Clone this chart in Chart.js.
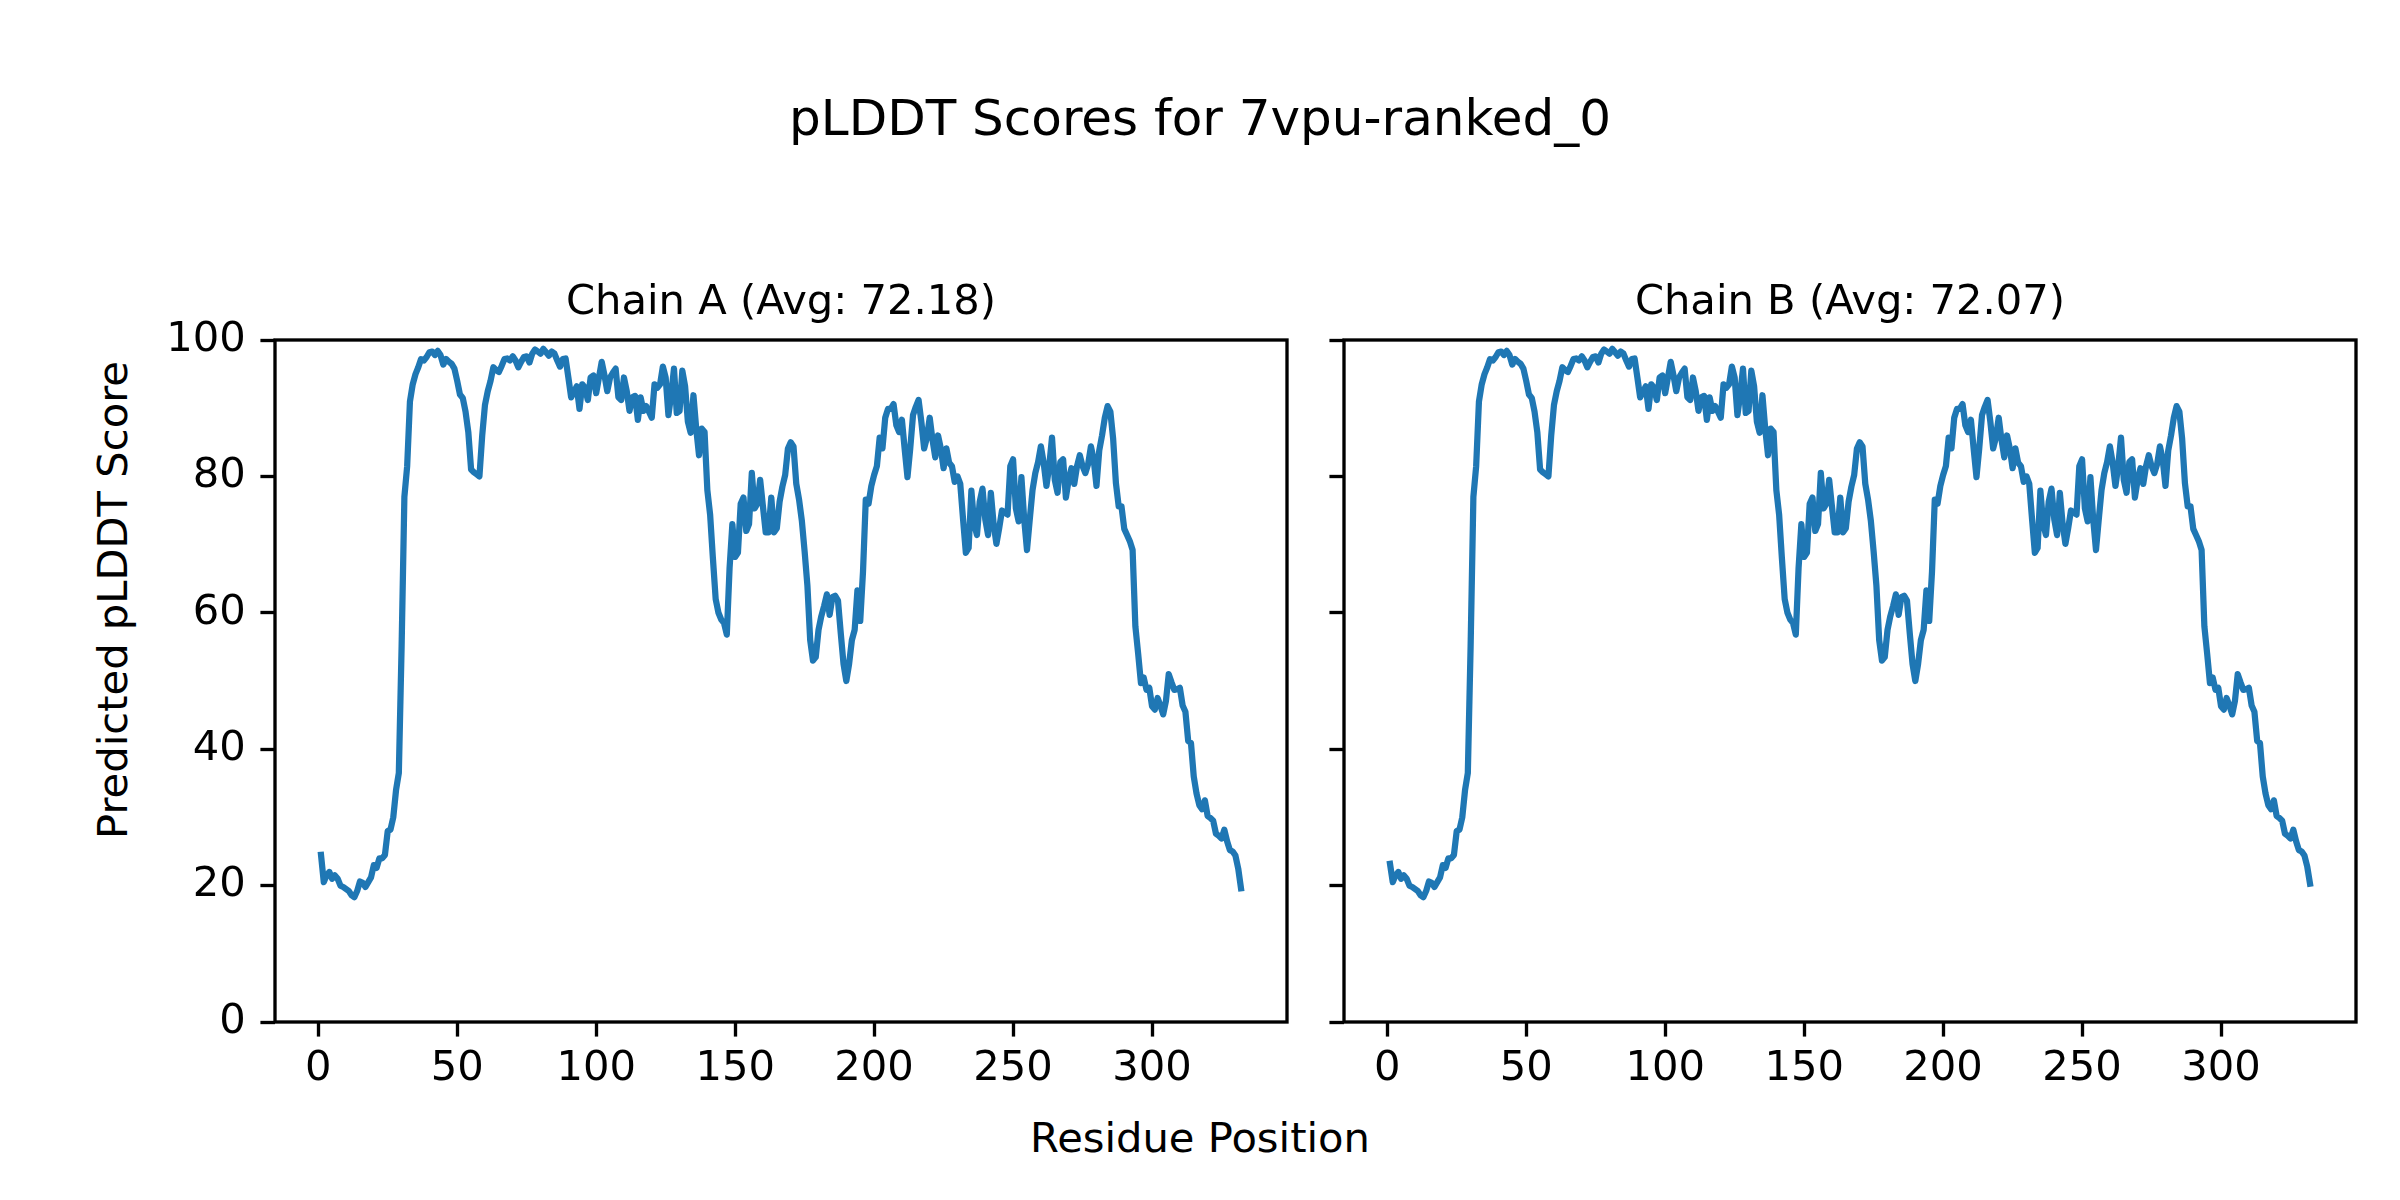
<!DOCTYPE html>
<html>
<head>
<meta charset="utf-8">
<script src="https://cdn.jsdelivr.net/npm/chart.js@4.4.1/dist/chart.umd.min.js"></script>
<style>
  html, body { margin: 0; padding: 0; background: #fff; }
  #wrap { position: relative; width: 2400px; height: 1200px; overflow: hidden; font-family: "DejaVu Sans", sans-serif; color: #000; }
  .txt { position: absolute; white-space: nowrap; line-height: 1; transform: translate(-50%, -50%); }
  .rot { transform: translate(-50%, -50%) rotate(-90deg); }
  canvas { position: absolute; top: 0; }
</style>
</head>
<body>
<div id="wrap">
  <div class="txt" style="left:1200px; top:118px; font-size:50px;">pLDDT Scores for 7vpu-ranked_0</div>
  <div class="txt" style="left:1200px; top:1138px; font-size:41.67px;">Residue Position</div>
  <div class="txt rot" style="left:113px; top:600px; font-size:41.67px;">Predicted pLDDT Score</div>
  <canvas id="chainA" width="1300" height="1200" style="left:0;"></canvas>
  <canvas id="chainB" width="1065" height="1200" style="left:1304px;"></canvas>
</div>
<script>
// pLDDT per residue (residues 1..332)
const seg1 = [24.5, 20.5, 21.5, 22, 21, 21.5, 21, 20, 19.8, 19.5, 19.2, 18.6, 18.3, 19.2, 20.6, 20.4, 19.8, 20.5, 21.2, 23,
  22.6, 24, 24, 24.5, 28, 28.2, 30, 34, 36.5, 55, 77, 81.5, 91, 93.5, 95, 96, 97.2, 97, 97.5, 98.2,
  98.3, 97.8, 98.4, 97.8, 96.4, 97.2, 96.8, 96.5, 95.8, 94, 92, 91.5, 89.5, 86.5, 81];
const seg2 = [80.6, 80.3, 80, 86, 90.5, 92.5, 94, 96, 95.6, 95.3, 96.2, 97.2, 97.3, 97, 97.6, 97, 96, 96.8, 97.5, 97.6,
  96.7, 98, 98.6, 98.3, 98, 98.7, 98.2, 97.7, 98.3, 98, 97, 96.1, 97.2, 97.3, 94.5, 91.6, 92.4, 93.2, 89.9, 93.5,
  93, 91.2, 94.5, 94.8, 92.2, 94.5, 96.8, 94.8, 92.5, 94.5, 95.2, 95.8, 91.6, 91.2, 94.5, 92.5, 89.6, 91.6];
const seg3 = [91.8, 88.3, 91.6, 89.6, 90.3, 89.5, 88.6, 93.5, 93, 93.5, 96.1, 94.5, 89, 92, 95.8, 89.3, 89.6, 95.5, 93.2, 88,
  86.4, 91.9, 87, 83.1, 87, 86.5, 78, 74.4, 68, 62, 60, 59, 58.5, 56.8, 66.6, 73, 68.2, 68.8, 76, 76.9,
  72, 73, 80.5, 75.3, 76, 79.5, 75.6, 71.8, 71.8, 76.9, 71.8, 72.4, 76.3, 78.5, 80.2, 84.1, 85];
const seg4 = [84.4, 78.9, 76.6, 73.5, 69, 64, 56, 53, 53.5, 57.5, 59.5, 61, 62.7, 59.7, 62.3, 62.5, 61.8, 57, 52.5, 50,
  52.5, 56, 57.5, 63.3, 58.8, 66, 76.6, 76, 78.6, 80.2, 81.5, 85.7, 84.1, 88.6, 89.9, 89.9, 90.6, 87.5, 86.5, 88.3,
  84, 79.9, 84.1, 89, 90.2, 91.2, 88, 84.1, 85.7, 88.6, 85.4, 82.8, 86, 84.1, 81.2, 84.1, 82];
const seg5 = [81.5, 79.2, 80, 78.9, 73.7, 68.8, 69.5, 77.9, 73, 71.4, 76.3, 78.2, 73.7, 71.4, 77.6, 73, 70.1, 72.4, 75, 74.7,
  74.4, 81.5, 82.5, 75.3, 73.4, 79.9, 73.7, 69.2, 73.7, 78, 80.5, 82.1, 84.4, 82, 78.6, 81.5, 85.7, 79.5, 77.6, 82.1,
  82.5, 76.9, 79.5, 81.2, 78.9, 81.5, 83.1, 81.5, 80.5, 81.8, 84.4, 82.5, 78.6, 83.8, 86, 88.6, 90.3, 89.5];
const seg6 = [85.5, 79, 75.6, 75.6, 72.3, 71.4, 70.5, 69.2, 58, 54, 49.7, 50.5, 48.7, 49, 46.3, 45.8, 47.5, 46.4, 45.1, 47.1,
  51, 49.8, 48.7, 48.8, 49, 46.4, 45.5, 41.2, 40.9, 36, 33.5, 31.8, 31.2, 32.5, 30.2, 29.9, 29.5, 27.6, 27.3, 26.9,
  28.2, 26.5, 25.2, 25, 24.4, 22.5, 19.6];
const chainA = [...seg1, ...seg2, ...seg3, ...seg4, ...seg5, ...seg6];

// chain B reads the same as A except at both ends
const chainBStart = [23.2];
const chainBEnd = [22.8, 20.3];
const chainB = [...chainBStart, ...chainA.slice(1, 330), ...chainBEnd];

const xTicks = [0, 50, 100, 150, 200, 250, 300];
const yTicks = [0, 20, 40, 60, 80, 100];
const titleA = "Chain A (Avg: 72.18)";
const titleB = "Chain B (Avg: 72.07)";

const PT = 300 / 72;
const FONT = { family: "'DejaVu Sans', sans-serif", size: 10 * PT, weight: "normal" };
const X_MIN = -15.55, X_MAX = 348.55;

const frame = {
  id: "frame",
  afterDatasetsDraw(chart) {
    const { ctx, chartArea: a } = chart;
    ctx.save();
    ctx.strokeStyle = "#000";
    ctx.lineWidth = 0.8 * PT;
    ctx.strokeRect(a.left, a.top, a.right - a.left, a.bottom - a.top);
    ctx.restore();
  },
};

function tickGrid() {
  return { drawOnChartArea: false, drawTicks: true, tickLength: 3.5 * PT, tickWidth: 0.8 * PT, tickColor: "#000" };
}

function makeChart(id, title, values, yWidth, withLabels) {
  const points = values.map((v, i) => ({ x: i + 1, y: v }));
  return new Chart(document.getElementById(id), {
    type: "line",
    data: {
      datasets: [{
        data: points,
        borderColor: "#1f77b4",
        borderWidth: 1.5 * PT,
        borderJoinStyle: "round",
        borderCapStyle: "square",
        pointRadius: 0,
        tension: 0,
        fill: false,
      }],
    },
    options: {
      responsive: false,
      animation: false,
      devicePixelRatio: 1,
      layout: { padding: { top: 278, right: 13, bottom: 0, left: 0 } },
      plugins: {
        legend: { display: false },
        tooltip: { enabled: false },
        title: { display: true, text: title, fullSize: false, color: "#000", font: FONT, padding: { top: 0, bottom: 12 } },
      },
      scales: {
        x: {
          type: "linear", min: X_MIN, max: X_MAX,
          afterBuildTicks: (s) => { s.ticks = xTicks.map(v => ({ value: v })); },
          afterFit: (s) => { s.height = 178; },
          grid: tickGrid(),
          border: { display: false },
          ticks: { color: "#000", font: FONT, padding: 8, maxRotation: 0, autoSkip: false },
        },
        y: {
          type: "linear", min: 0, max: 100,
          afterBuildTicks: (s) => { s.ticks = yTicks.map(v => ({ value: v })); },
          afterFit: (s) => { s.width = yWidth; },
          grid: tickGrid(),
          border: { display: false },
          ticks: { color: "#000", font: FONT, padding: 3.5 * PT, autoSkip: false,
            callback: (v) => withLabels ? String(v) : "" },
        },
      },
    },
    plugins: [frame],
  });
}

makeChart("chainA", titleA, chainA, 275, true);
makeChart("chainB", titleB, chainB, 40, false);
</script>
</body>
</html>
